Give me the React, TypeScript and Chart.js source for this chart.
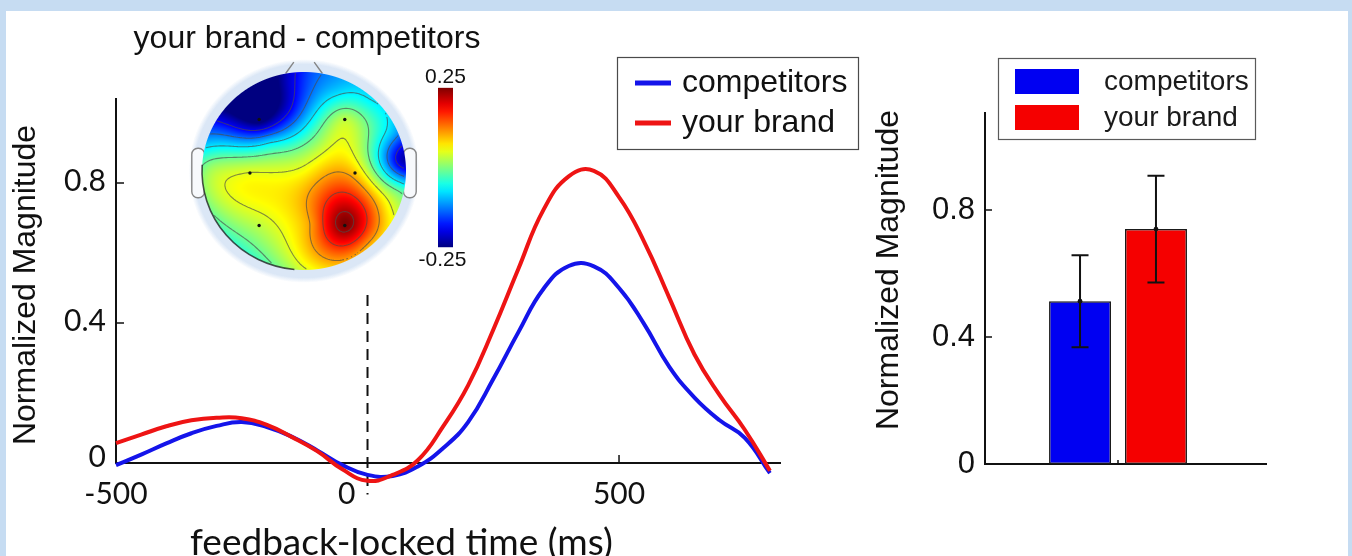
import React, { useEffect, useRef } from "react";
import { Chart, registerables } from "chart.js";

Chart.register(...registerables);

// ---------------- data ----------------
const timeMs = [-500, -450, -400, -350, -300, -250, -200, -150, -100, -50, 0, 50, 100, 150, 200, 250, 300, 350, 400, 450, 500, 550, 600, 650, 700, 750, 800];
const competitorsWave = [-0.006, 0.024, 0.056, 0.085, 0.106, 0.117, 0.103, 0.075, 0.036, -0.006, -0.034, -0.037, -0.01, 0.042, 0.117, 0.24, 0.374, 0.498, 0.563, 0.562, 0.5, 0.397, 0.275, 0.187, 0.122, 0.072, -0.029];
const yourBrandWave = [0.057, 0.081, 0.105, 0.122, 0.129, 0.128, 0.109, 0.074, 0.034, -0.018, -0.051, -0.034, 0.008, 0.104, 0.222, 0.381, 0.555, 0.724, 0.819, 0.835, 0.76, 0.632, 0.472, 0.31, 0.194, 0.095, -0.022];
const waveSeries = ["competitors", "your brand"];
const onsetMs = [0, 0];
const onsetLevel = [0.48, -0.09];
const waveTicksX = [-500, 0, 500];
const waveTicksY = [0, 0.4, 0.8];
const waveXTitle = "feedback-locked time (ms)";
const yTitle = "Normalized Magnitude";

const barSeries = ["competitors", "your brand"];
const competitorsMean = [0.513];
const yourBrandMean = [0.74];
const competitorsErr = [0.145];
const yourBrandErr = [0.168];
const barTicksY = [0, 0.4, 0.8];

const topoTitle = "your brand - competitors";
const sensorX = [-0.44, 0.4, -0.53, 0.5, -0.44, 0.4, -0.66, -0.17, 0.32, 0.65, 0.96, 0.97, 0.16, -0.33, -0.92, -0.92, 0.0, 0.09, -0.82, 0.0, 0.65, 0.84, -0.85, -0.15, 0.06, 0.88];
const sensorY = [0.52, 0.52, -0.02, -0.02, -0.55, -0.55, 0.72, 0.89, 0.82, 0.72, 0.1, -0.19, 0.28, 0.28, 0.28, 0.04, 0.0, -0.53, -0.46, -0.93, -0.8, -0.39, 0.5, 0.62, 0.97, 0.38];
const sensorValue = [-0.27, 0.03, 0.05, 0.09, 0.03, 0.25, -0.3, -0.22, -0.09, -0.07, -0.22, -0.03, 0.02, -0.07, -0.09, 0.01, 0.06, 0.12, 0.0, 0.06, 0.08, 0.06, -0.19, -0.2, -0.15, -0.1];
const electrodeCount = 6;
const colorLimits = [-0.25, 0.25];
const contourLevels = [-0.19, -0.13, -0.07, -0.01, 0.05, 0.11, 0.17, 0.23];

// ---------------- style ----------------
const W = 1352;
const H = 556;
const SANS = '"Liberation Sans", Arial, sans-serif';
const LATO = 'Lato, "Open Sans", sans-serif';
const BLUE_LINE = "#1414ea";
const RED_LINE = "#ee1414";
const BLUE_BAR = "#0000f2";
const RED_BAR = "#f50000";
const INK = "#111111";

function fmt(v: number) {
  return v === 0 ? "0" : v.toFixed(1);
}

// ---------------- wave chart decorations ----------------
const waveDecor = {
  id: "waveDecor",
  beforeDatasetsDraw(chart: any) {
    const { ctx, scales } = chart;
    const x = scales.x, y = scales.y;
    const x0 = x.getPixelForValue(x.min);
    const x1 = x.getPixelForValue(x.max);
    const yZero = y.getPixelForValue(0);
    const yTop = y.getPixelForValue(y.max);
    ctx.save();
    ctx.strokeStyle = INK;
    ctx.lineWidth = 2;
    ctx.beginPath();
    ctx.moveTo(x0, yTop);
    ctx.lineTo(x0, yZero + 1);
    ctx.moveTo(x0 - 1, yZero);
    ctx.lineTo(x1, yZero);
    ctx.stroke();
    ctx.lineWidth = 1.5;
    ctx.beginPath();
    for (const v of waveTicksY) {
      if (v === 0) continue;
      const p = y.getPixelForValue(v);
      ctx.moveTo(x0, p);
      ctx.lineTo(x0 + 8, p);
    }
    for (const v of waveTicksX) {
      if (v <= 0) continue;
      const p = x.getPixelForValue(v);
      ctx.moveTo(p, yZero);
      ctx.lineTo(p, yZero - 8);
    }
    ctx.stroke();
    ctx.restore();
  },
  afterDraw(chart: any) {
    const { ctx, scales } = chart;
    const x = scales.x, y = scales.y;
    const x0 = x.getPixelForValue(x.min);
    const yZero = y.getPixelForValue(0);
    ctx.save();
    ctx.fillStyle = INK;
    ctx.font = `30px ${LATO}`;
    ctx.textBaseline = "middle";
    ctx.textAlign = "right";
    for (const v of waveTicksY) {
      ctx.fillText(fmt(v), x0 - 10, y.getPixelForValue(v) - (v === 0 ? 6 : 2));
    }
    for (const v of waveTicksX) {
      const p = x.getPixelForValue(v);
      if (v === 0) {
        ctx.textAlign = "right";
        ctx.fillText(String(v), p - 12, yZero + 31);
      } else {
        ctx.textAlign = "center";
        ctx.fillText(String(v), p, yZero + 31);
      }
    }
    // x title
    ctx.font = `37px ${LATO}`;
    ctx.textAlign = "left";
    ctx.textBaseline = "alphabetic";
    ctx.fillText(waveXTitle, 190, 555);
    // y title
    ctx.save();
    ctx.translate(35, 285);
    ctx.rotate(-Math.PI / 2);
    ctx.font = `32px ${SANS}`;
    ctx.textAlign = "center";
    ctx.fillText(yTitle, 0, 0);
    ctx.restore();
    // legend
    const bx = 617.5, by = 57.5;
    ctx.strokeStyle = "#4a4a4a";
    ctx.lineWidth = 1.2;
    ctx.strokeRect(bx, by, 241, 92);
    const colors = [BLUE_LINE, RED_LINE];
    waveSeries.forEach((name, i) => {
      const ly = 83 + i * 40;
      ctx.strokeStyle = colors[i];
      ctx.lineWidth = 5;
      ctx.beginPath();
      ctx.moveTo(635, ly);
      ctx.lineTo(671, ly);
      ctx.stroke();
      ctx.fillStyle = INK;
      ctx.font = `32px ${SANS}`;
      ctx.textAlign = "left";
      ctx.textBaseline = "middle";
      ctx.fillText(name, 682, ly);
    });
    ctx.restore();
  },
};

// ---------------- topo map helpers ----------------
function jet(t: number): number[] {
  const v = Math.min(1, Math.max(0, t));
  const c = (k: number) => Math.min(1, Math.max(0, 1.5 - Math.abs(4 * v - k)));
  return [c(3) * 255, c(2) * 255, c(1) * 255];
}

function solve(A: number[][], b: number[]): number[] {
  const n = b.length;
  const M = A.map((row, i) => [...row, b[i]]);
  for (let c = 0; c < n; c++) {
    let p = c;
    for (let r = c + 1; r < n; r++) if (Math.abs(M[r][c]) > Math.abs(M[p][c])) p = r;
    const tmp = M[c];
    M[c] = M[p];
    M[p] = tmp;
    for (let r = c + 1; r < n; r++) {
      const f = M[r][c] / M[c][c];
      for (let k = c; k <= n; k++) M[r][k] -= f * M[c][k];
    }
  }
  const w = new Array(n).fill(0);
  for (let r = n - 1; r >= 0; r--) {
    let s = M[r][n];
    for (let k = r + 1; k < n; k++) s -= M[r][k] * w[k];
    w[r] = s / M[r][r];
  }
  return w;
}

function biharmonic(xs: number[], ys: number[], vs: number[]) {
  const phi = (r: number) => (r < 1e-9 ? 0 : r * r * (Math.log(r) - 1));
  const n = xs.length;
  const A: number[][] = [];
  for (let i = 0; i < n; i++) {
    const row: number[] = [];
    for (let j = 0; j < n; j++) row.push(phi(Math.hypot(xs[i] - xs[j], ys[i] - ys[j])));
    A.push(row);
  }
  const w = solve(A, vs);
  return (px: number, py: number) => {
    let s = 0;
    for (let j = 0; j < n; j++) s += w[j] * phi(Math.hypot(px - xs[j], py - ys[j]));
    return s;
  };
}

const topoDecor = {
  id: "topoDecor",
  beforeDatasetsDraw(chart: any) {
    const { ctx, chartArea, scales } = chart;
    const x = scales.x, y = scales.y;
    const cx = x.getPixelForValue(0), cy = y.getPixelForValue(0);
    const rx = x.getPixelForValue(1) - cx;
    const ry = cy - y.getPixelForValue(1);
    ctx.save();
    // halo
    ctx.save();
    ctx.translate(cx, cy);
    ctx.scale(1, ry / rx);
    const g = ctx.createRadialGradient(0, 0, rx * 0.98, 0, 0, rx * 1.13);
    g.addColorStop(0, "rgba(219,231,246,1)");
    g.addColorStop(0.65, "rgba(219,231,246,1)");
    g.addColorStop(1, "rgba(219,231,246,0)");
    ctx.fillStyle = g;
    ctx.beginPath();
    ctx.arc(0, 0, rx * 1.13, 0, Math.PI * 2);
    ctx.fill();
    ctx.restore();
    // ears
    ctx.strokeStyle = "#858585";
    ctx.lineWidth = 1.4;
    for (const side of [-1, 1]) {
      const a = x.getPixelForValue(side * 0.975);
      const b = x.getPixelForValue(side * 1.1);
      const l = Math.min(a, b), wdt = Math.abs(b - a);
      const t = y.getPixelForValue(0.23), bt = y.getPixelForValue(-0.27);
      ctx.beginPath();
      ctx.roundRect(l, t, wdt, bt - t, 6);
      ctx.fillStyle = "#f7f9fc";
      ctx.fill();
      ctx.stroke();
    }
    // nose
    ctx.beginPath();
    ctx.moveTo(x.getPixelForValue(-0.18), y.getPixelForValue(0.985));
    ctx.lineTo(x.getPixelForValue(-0.1), y.getPixelForValue(1.1));
    ctx.moveTo(x.getPixelForValue(0.1), y.getPixelForValue(1.1));
    ctx.lineTo(x.getPixelForValue(0.18), y.getPixelForValue(0.985));
    ctx.stroke();

    // map
    const L = Math.floor(chartArea.left), T = Math.floor(chartArea.top);
    const MW = Math.ceil(chartArea.right) - L, MH = Math.ceil(chartArea.bottom) - T;
    const f = biharmonic(sensorX, sensorY, sensorValue);
    const field = new Float32Array(MW * MH);
    const off = document.createElement("canvas");
    off.width = MW;
    off.height = MH;
    const octx = off.getContext("2d") as CanvasRenderingContext2D;
    const img = octx.createImageData(MW, MH);
    const [lo, hi] = colorLimits;
    for (let j = 0; j < MH; j++) {
      for (let i = 0; i < MW; i++) {
        const hx = x.getValueForPixel(L + i + 0.5);
        const hy = y.getValueForPixel(T + j + 0.5);
        const r = Math.hypot(hx, hy);
        const k = j * MW + i;
        if (r > 1.01) {
          field[k] = NaN;
          continue;
        }
        const v = f(hx, hy);
        field[k] = r <= 1 ? v : NaN;
        const col = jet((v - lo) / (hi - lo));
        const alpha = Math.min(1, Math.max(0, (1 - r) * rx + 0.5));
        img.data[k * 4] = col[0];
        img.data[k * 4 + 1] = col[1];
        img.data[k * 4 + 2] = col[2];
        img.data[k * 4 + 3] = alpha * 255;
      }
    }
    octx.putImageData(img, 0, 0);
    ctx.drawImage(off, L, T);

    // contours
    ctx.save();
    ctx.beginPath();
    ctx.ellipse(cx, cy, rx, ry, 0, 0, Math.PI * 2);
    ctx.clip();
    ctx.strokeStyle = "rgba(75,75,75,0.65)";
    ctx.lineWidth = 1.1;
    ctx.beginPath();
    const st = 2;
    for (const lv of contourLevels) {
      for (let j = 0; j + st < MH; j += st) {
        for (let i = 0; i + st < MW; i += st) {
          const a = field[j * MW + i], b = field[j * MW + i + st];
          const c = field[(j + st) * MW + i + st], d = field[(j + st) * MW + i];
          if (isNaN(a) || isNaN(b) || isNaN(c) || isNaN(d)) continue;
          const pts: number[][] = [];
          if (a < lv !== b < lv) pts.push([i + (st * (lv - a)) / (b - a), j]);
          if (b < lv !== c < lv) pts.push([i + st, j + (st * (lv - b)) / (c - b)]);
          if (d < lv !== c < lv) pts.push([i + (st * (lv - d)) / (c - d), j + st]);
          if (a < lv !== d < lv) pts.push([i, j + (st * (lv - a)) / (d - a)]);
          for (let q = 0; q + 1 < pts.length; q += 2) {
            ctx.moveTo(L + pts[q][0], T + pts[q][1]);
            ctx.lineTo(L + pts[q + 1][0], T + pts[q + 1][1]);
          }
        }
      }
    }
    ctx.stroke();
    ctx.restore();

    // outline of lower-left rim
    ctx.strokeStyle = "rgba(35,35,35,0.8)";
    ctx.lineWidth = 1.6;
    ctx.beginPath();
    ctx.ellipse(cx, cy, rx, ry, 0, Math.PI * 0.53, Math.PI * 1.02);
    ctx.stroke();

    // colorbar
    const cbL = chartArea.right + 6.5;
    const cbW = 15;
    const cbT = y.getPixelForValue(0.84);
    const cbB = y.getPixelForValue(-0.77);
    const grad = ctx.createLinearGradient(0, cbT, 0, cbB);
    for (let s = 0; s <= 20; s++) {
      const col = jet(1 - s / 20);
      grad.addColorStop(s / 20, `rgb(${col[0] | 0},${col[1] | 0},${col[2] | 0})`);
    }
    ctx.fillStyle = grad;
    ctx.fillRect(cbL, cbT, cbW, cbB - cbT);
    ctx.fillStyle = INK;
    ctx.font = `21px ${SANS}`;
    ctx.textAlign = "center";
    ctx.textBaseline = "middle";
    ctx.fillText(hi.toFixed(2), cbL + cbW / 2, cbT - 11);
    ctx.fillText(lo.toFixed(2), cbL + cbW / 2 - 3, cbB + 13);

    // title
    ctx.font = `32px ${SANS}`;
    ctx.textBaseline = "alphabetic";
    ctx.fillText(topoTitle, cx + 3, chartArea.top + 1);
    ctx.restore();
  },
};

// ---------------- bar chart decorations ----------------
const barDecor = {
  id: "barDecor",
  beforeDatasetsDraw(chart: any) {
    const { ctx, chartArea, scales } = chart;
    const y = scales.y, x = scales.x;
    const x0 = chartArea.left;
    const yZero = y.getPixelForValue(0);
    const yTop = y.getPixelForValue(y.max);
    ctx.save();
    ctx.strokeStyle = INK;
    ctx.lineWidth = 2;
    ctx.beginPath();
    ctx.moveTo(x0, yTop);
    ctx.lineTo(x0, yZero + 1);
    ctx.moveTo(x0 - 1, yZero);
    ctx.lineTo(chartArea.right + 16, yZero);
    ctx.stroke();
    ctx.lineWidth = 1.5;
    ctx.beginPath();
    for (const v of barTicksY) {
      if (v === 0) continue;
      const p = y.getPixelForValue(v);
      ctx.moveTo(x0, p);
      ctx.lineTo(x0 + 7, p);
    }
    const mid = x.getPixelForValue(0);
    ctx.moveTo(mid, yZero);
    ctx.lineTo(mid, yZero - 4);
    ctx.stroke();
    ctx.restore();
  },
  afterDatasetsDraw(chart: any) {
    const { ctx, scales } = chart;
    const y = scales.y;
    const means = [competitorsMean, yourBrandMean];
    const errs = [competitorsErr, yourBrandErr];
    ctx.save();
    ctx.strokeStyle = INK;
    ctx.fillStyle = INK;
    ctx.lineWidth = 2;
    chart.data.datasets.forEach((_ds: any, i: number) => {
      const meta = chart.getDatasetMeta(i);
      meta.data.forEach((bar: any, k: number) => {
        const m = means[i][k], e = errs[i][k];
        const top = y.getPixelForValue(m + e);
        const bot = y.getPixelForValue(m - e);
        ctx.beginPath();
        ctx.moveTo(bar.x, top);
        ctx.lineTo(bar.x, bot);
        ctx.moveTo(bar.x - 8.5, top);
        ctx.lineTo(bar.x + 8.5, top);
        ctx.moveTo(bar.x - 8.5, bot);
        ctx.lineTo(bar.x + 8.5, bot);
        ctx.stroke();
        ctx.beginPath();
        ctx.arc(bar.x, y.getPixelForValue(m), 2.4, 0, Math.PI * 2);
        ctx.fill();
      });
    });
    ctx.restore();
  },
  afterDraw(chart: any) {
    const { ctx, chartArea, scales } = chart;
    const y = scales.y;
    const x0 = chartArea.left;
    ctx.save();
    ctx.fillStyle = INK;
    ctx.font = `31px ${SANS}`;
    ctx.textAlign = "right";
    ctx.textBaseline = "middle";
    for (const v of barTicksY) ctx.fillText(fmt(v), x0 - 10, y.getPixelForValue(v));
    ctx.save();
    ctx.translate(898, 270);
    ctx.rotate(-Math.PI / 2);
    ctx.font = `32px ${SANS}`;
    ctx.textAlign = "center";
    ctx.textBaseline = "alphabetic";
    ctx.fillText(yTitle, 0, 0);
    ctx.restore();
    // legend
    ctx.strokeStyle = "#5a5a5a";
    ctx.lineWidth = 1.2;
    ctx.strokeRect(998.5, 58.5, 257, 81);
    chart.data.datasets.forEach((ds: any, i: number) => {
      const ty = 69 + i * 36;
      ctx.fillStyle = ds.backgroundColor;
      ctx.fillRect(1015, ty, 64, 25);
      ctx.fillStyle = "#1a1a1a";
      ctx.font = `28px ${SANS}`;
      ctx.textAlign = "left";
      ctx.textBaseline = "middle";
      ctx.fillText(ds.label, 1104, ty + 13);
    });
    ctx.restore();
  },
};

export default function App() {
  const waveRef = useRef<HTMLCanvasElement>(null);
  const topoRef = useRef<HTMLCanvasElement>(null);
  const barRef = useRef<HTMLCanvasElement>(null);

  useEffect(() => {
    const charts: Chart[] = [];
    const common = {
      animation: false as const,
      responsive: false,
      maintainAspectRatio: false,
      devicePixelRatio: 1,
      events: [] as any[],
    };
    if (waveRef.current) {
      charts.push(
        new Chart(waveRef.current, {
          type: "line",
          data: {
            datasets: [
              {
                label: waveSeries[1],
                data: timeMs.map((t, i) => ({ x: t, y: yourBrandWave[i] })),
                borderColor: RED_LINE,
                borderWidth: 4,
                pointRadius: 0,
                tension: 0.45,
                clip: false,
              } as any,
              {
                label: waveSeries[0],
                data: timeMs.map((t, i) => ({ x: t, y: competitorsWave[i] })),
                borderColor: BLUE_LINE,
                borderWidth: 4,
                pointRadius: 0,
                tension: 0.45,
                clip: false,
              } as any,
              {
                label: "onset",
                data: onsetMs.map((t, i) => ({ x: t, y: onsetLevel[i] })),
                borderColor: INK,
                borderWidth: 2,
                borderDash: [11, 7],
                pointRadius: 0,
                clip: false,
              } as any,
            ],
          },
          options: {
            ...common,
            layout: { padding: { left: 116, right: W - 781, top: 98, bottom: H - 484 } },
            scales: {
              x: { type: "linear", min: -500, max: 822, display: false },
              y: { type: "linear", min: -0.06, max: 1.043, display: false },
            },
            plugins: { legend: { display: false }, tooltip: { enabled: false } },
          } as any,
          plugins: [waveDecor],
        })
      );
    }
    if (topoRef.current) {
      charts.push(
        new Chart(topoRef.current, {
          type: "scatter",
          data: {
            datasets: [
              {
                label: "electrodes",
                data: sensorX.slice(0, electrodeCount).map((sx, i) => ({ x: sx, y: sensorY[i] })),
                pointRadius: 1.7,
                backgroundColor: "#111",
                borderWidth: 0,
              },
            ],
          },
          options: {
            ...common,
            layout: { padding: { left: 176.5, right: W - 431.5, top: 47.25, bottom: H - 294.75 } },
            scales: {
              x: { type: "linear", min: -1.25, max: 1.25, display: false },
              y: { type: "linear", min: -1.25, max: 1.25, display: false },
            },
            plugins: { legend: { display: false }, tooltip: { enabled: false } },
          } as any,
          plugins: [topoDecor],
        })
      );
    }
    if (barRef.current) {
      charts.push(
        new Chart(barRef.current, {
          type: "bar",
          data: {
            labels: [""],
            datasets: [
              {
                label: barSeries[0],
                data: competitorsMean,
                backgroundColor: BLUE_BAR,
                borderColor: "#1a1a1a",
                borderWidth: 1.5,
                borderSkipped: false,
              },
              {
                label: barSeries[1],
                data: yourBrandMean,
                backgroundColor: RED_BAR,
                borderColor: "#1a1a1a",
                borderWidth: 1.5,
                borderSkipped: false,
              },
            ],
          },
          options: {
            ...common,
            categoryPercentage: 0.571,
            barPercentage: 0.816,
            layout: { padding: { left: 985, right: W - 1251, top: 112, bottom: H - 464 } },
            scales: {
              x: { display: false },
              y: { min: 0, max: 1.109, display: false },
            },
            plugins: { legend: { display: false }, tooltip: { enabled: false } },
          } as any,
          plugins: [barDecor],
        })
      );
    }
    return () => charts.forEach((c) => c.destroy());
  }, []);

  const cs: React.CSSProperties = { position: "absolute", left: 0, top: 0 };
  return (
    <div style={{ position: "absolute", left: 0, top: 0, width: W, height: H, background: "#c6dcf2", overflow: "hidden" }}>
      <div style={{ position: "absolute", left: 6, top: 11, width: 1342, height: H - 11, background: "#ffffff" }} />
      <canvas ref={waveRef} width={W} height={H} style={cs} />
      <canvas ref={barRef} width={W} height={H} style={cs} />
      <canvas ref={topoRef} width={W} height={H} style={cs} />
    </div>
  );
}
